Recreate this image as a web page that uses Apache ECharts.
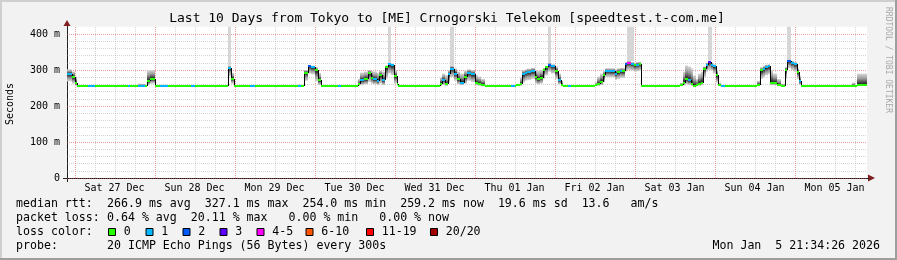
<!DOCTYPE html>
<html><head><meta charset="utf-8">
<script src="https://cdn.jsdelivr.net/npm/echarts@6/dist/echarts.min.js"></script>
<style>html,body{margin:0;padding:0;background:#f2f2f2}#c{width:897px;height:260px}</style>
</head><body><div id="c"></div>
<script>
// ---------------- data ----------------
const titleText = 'Last 10 Days from Tokyo to [ME] Crnogorski Telekom [speedtest.t-com.me]';
// x values are hours since Sat 27 Dec 00:00
const xMin = -2.25, xMax = 237.75;
const yMax = 420;
const dayLabels = ['Sat 27 Dec','Sun 28 Dec','Mon 29 Dec','Tue 30 Dec','Wed 31 Dec','Thu 01 Jan','Fri 02 Jan','Sat 03 Jan','Sun 04 Jan','Mon 05 Jan'];
const dayLabelHours = [12,36,60,84,108,132,156,180,204,228];
const gridHours = [0,6,12,18,24,30,36,42,48,54,60,66,72,78,84,90,96,102,108,114,120,126,132,138,144,150,156,162,168,174,180,186,192,198,204,210,216,222,228,234];
const yTickLabels = {0:'0',100:'100 m',200:'200 m',300:'300 m',400:'400 m'};

// median rtt steps (ms), loss count, smoke low / high (ms)
const segStart = [-2.25,-0.75,0.1,0.75,4.0,6.0,16.0,16.7,19.0,21.0,21.75,22.65,24.1,25.65,28.05,34.95,36.15,
  46.0,46.95,47.95,52.65,54.05,67.05,67.85,68.85,69.95,70.85,72.15,72.95,73.85,79.15,79.85,
  84.95,85.65,86.95,88.15,88.95,89.65,90.65,91.35,92.15,93.15,93.95,94.95,95.95,96.65,97.15,
  109.65,110.35,111.15,111.95,112.75,113.95,114.75,115.65,116.95,117.65,119.05,120.05,121.05,122.05,123.05,
  130.85,132.05,132.55,133.55,134.25,135.05,135.85,137.05,138.05,138.85,139.55,140.55,141.25,142.05,143.05,144.25,145.05,145.85,146.55,
  148.05,148.85,156.05,156.85,157.55,158.55,159.25,160.55,162.05,162.85,163.55,164.25,165.05,165.85,167.05,167.85,168.55,169.25,169.85,
  181.65,182.45,183.15,184.15,184.85,185.65,186.35,187.15,187.85,188.65,189.35,189.95,190.85,191.65,192.35,192.95,193.85,195.15,
  204.85,205.65,206.45,207.15,207.95,208.65,209.45,210.85,211.85,213.15,213.85,214.85,215.85,216.65,217.45,217.85,
  233.15,234.15,234.65];
const segMedian = [289,280,263,255,255,255,255,255,255,255,269,275,255,255,255,255,255,
  306,276,255,255,255,255,255,293,311,308,299,271,255,255,255,
  260,271,274,292,279,274,269,285,271,308,316,313,283,262,255,
  262,271,260,288,304,290,274,265,281,292,288,264,262,259,255,
  255,255,257,260,288,292,294,297,281,274,279,299,308,315,311,297,271,259,255,
  255,255,257,260,267,285,297,296,290,294,297,296,316,320,318,313,315,318,255,
  257,265,274,271,260,255,257,262,265,304,315,322,315,310,285,257,255,255,
  259,299,302,308,310,265,264,257,255,301,325,320,316,294,269,255,
  255,255,259];
const segLoss = [1,0,0,0,1,0,1,0,1,0,0,0,0,1,0,1,0,
  1,0,0,1,0,1,0,0,2,1,0,0,0,1,0,
  0,1,0,0,0,1,1,0,1,0,1,1,0,0,0,
  0,1,0,1,1,1,0,1,0,1,1,0,0,0,0,
  1,0,0,0,1,1,1,1,0,0,0,0,0,2,1,0,1,0,0,
  1,0,0,0,0,0,1,1,1,0,1,0,2,4,1,0,1,0,0,
  0,0,0,1,0,0,0,0,0,0,1,3,1,1,0,0,1,0,
  0,0,1,1,1,0,0,0,0,0,2,1,1,0,1,0,
  0,0,0];
const segLow = [268,262,256,255,255,255,255,255,255,255,258,262,255,255,255,255,255,
  282,262,255,255,255,255,255,270,290,288,268,258,255,255,255,
  256,258,260,266,262,260,258,262,258,276,290,286,262,256,255,
  256,258,256,265,280,270,260,258,262,270,266,258,256,255,255,
  255,255,255,256,265,270,272,275,262,260,262,275,285,295,290,275,260,255,255,
  255,255,255,256,258,265,280,280,272,275,278,278,295,300,298,295,296,298,255,
  255,257,260,258,256,254,255,256,258,280,295,300,298,290,265,255,255,255,
  256,275,280,285,288,258,258,255,254,275,305,300,295,275,258,255,
  255,255,256];
const segHigh = [302,296,282,255,258,255,255,255,262,255,300,300,255,259,255,255,255,
  312,292,258,255,255,260,255,300,314,312,308,292,258,255,255,
  276,293,296,300,298,296,292,298,296,313,320,318,300,278,255,
  280,290,286,300,312,305,296,290,298,302,300,286,282,275,255,
  255,255,262,280,300,302,304,306,300,298,300,306,312,320,316,310,290,270,255,
  255,255,266,282,290,298,305,305,302,305,306,306,322,325,322,320,322,322,255,
  265,295,313,310,305,285,275,290,295,310,320,326,320,316,300,265,255,255,
  270,308,312,315,316,300,290,275,262,308,330,325,322,305,285,255,
  265,255,290];
// outlier pings above the visible range
const spikeStart = [46.0,93.95,112.75,142.05,165.85,189.95,213.85];
const spikeEnd   = [46.95,94.95,113.95,143.05,167.75,191.15,214.85];
const spikeBase  = [312,320,312,320,325,326,330];

const lossLabels = ['0','1','2','3','4-5','6-10','11-19','20/20'];
const lossColors = ['#26ff00','#00b8ff','#0059ff','#5e00ff','#ff00ff','#ff5500','#ff0000','#a00000'];

const statRows = [
  ['median rtt:', '266.9 ms avg  327.1 ms max  254.0 ms min  259.2 ms now  19.6 ms sd  13.6   am/s'],
  ['packet loss:', '0.64 % avg  20.11 % max   0.00 % min   0.00 % now'],
  ['loss color:', ''],
  ['probe:', '20 ICMP Echo Pings (56 Bytes) every 300s']
];
const stampText = 'Mon Jan  5 21:34:26 2026';
const yAxisName = 'Seconds';
const sideText = 'RRDTOOL / TOBI OETIKER';

// ---------------- chart ----------------
const MONO = '"DejaVu Sans Mono", monospace';
const GRID_MINOR = 'rgba(143,143,143,0.38)';
const GRID_MAJOR = 'rgba(222,79,79,0.55)';
const segEnd = segStart.map((s, i) => i + 1 < segStart.length ? segStart[i + 1] : xMax);

const smokeData = [], medianData = [];
segStart.forEach((s, i) => {
  if (segHigh[i] > segLow[i]) smokeData.push([s, segEnd[i], segLow[i], segHigh[i], segMedian[i]]);
  medianData.push([s, segEnd[i], segMedian[i], segLoss[i], i > 0 ? segMedian[i - 1] : -1]);
});
const spikeData = spikeStart.map((s, i) => [s, spikeEnd[i], spikeBase[i]]);

const chart = echarts.init(document.getElementById('c'), null, {renderer: 'canvas'});

function renderGridX(params, api) {
  const h = api.value(0);
  const p1 = api.coord([h, 0]), p2 = api.coord([h, yMax]);
  const x = Math.round(p1[0]) + 0.5;
  return {type: 'line', shape: {x1: x, y1: p1[1], x2: x, y2: p2[1]},
    style: {stroke: (h % 24 === 0) ? GRID_MAJOR : GRID_MINOR, lineWidth: 1, lineDash: [1, 1]}};
}
function renderDayLabel(params, api) {
  const p = api.coord([api.value(0), 0]);
  return {type: 'text', x: p[0], y: p[1] + 10,
    style: {text: dayLabels[params.dataIndex], font: '10px ' + MONO, fill: '#000', align: 'center', verticalAlign: 'middle'}};
}
function renderSpike(params, api) {
  const p1 = api.coord([api.value(0), yMax]), p2 = api.coord([api.value(1), api.value(2)]);
  const x1 = Math.round(p1[0]), x2 = Math.round(p2[0]);
  return {type: 'rect', shape: {x: x1, y: p1[1], width: x2 - x1, height: p2[1] - p1[1]}, style: {fill: '#d6d6d6'}};
}
function renderSmoke(params, api) {
  const s = api.value(0), e = api.value(1), lo = api.value(2), hi = api.value(3), med = api.value(4);
  const pT = api.coord([s, hi]), pB = api.coord([e, lo]);
  const x = Math.round(pT[0]), w = Math.round(pB[0]) - x;
  const y = pT[1], h = pB[1] - pT[1];
  if (w <= 0 || h <= 0) return null;
  let m = (hi - med) / (hi - lo); m = Math.min(0.97, Math.max(0.03, m));
  return {type: 'rect', shape: {x, y, width: w, height: h},
    style: {fill: new echarts.graphic.LinearGradient(0, 0, 0, 1, [
      {offset: 0, color: '#d8d8d8'}, {offset: m * 0.45, color: '#9a9a9a'},
      {offset: m * 0.8, color: '#444444'}, {offset: m, color: '#1e1e1e'},
      {offset: m + (1 - m) * 0.2, color: '#444444'},
      {offset: m + (1 - m) * 0.55, color: '#9a9a9a'}, {offset: 1, color: '#d8d8d8'}])}};
}
function renderMedian(params, api) {
  const s = api.value(0), e = api.value(1), med = api.value(2), loss = api.value(3), prev = api.value(4);
  const p1 = api.coord([s, med]), p2 = api.coord([e, med]);
  const y = Math.round(p1[1]);
  const children = [];
  if (prev > 0 && prev !== med) {
    const pp = api.coord([s, prev]);
    const x = Math.round(p1[0]) + 0.5;
    children.push({type: 'line', shape: {x1: x, y1: Math.round(pp[1]), x2: x, y2: y}, style: {stroke: '#000', lineWidth: 1}});
  }
  children.push({type: 'line', shape: {x1: Math.round(p1[0]), y1: y, x2: Math.round(p2[0]), y2: y},
    style: {stroke: lossColors[loss], lineWidth: 2}});
  return {type: 'group', children};
}

// legend / text graphics
const graphics = [
  {type: 'rect', shape: {x: 0, y: 0, width: 897, height: 2}, style: {fill: '#cfcfcf'}, silent: true},
  {type: 'rect', shape: {x: 0, y: 0, width: 2, height: 260}, style: {fill: '#cfcfcf'}, silent: true},
  {type: 'rect', shape: {x: 0, y: 258, width: 897, height: 2}, style: {fill: '#9e9e9e'}, silent: true},
  {type: 'rect', shape: {x: 895, y: 0, width: 2, height: 260}, style: {fill: '#9e9e9e'}, silent: true},
  {type: 'text', x: 447, y: 19, style: {text: titleText, font: '13px ' + MONO, fill: '#000', align: 'center', verticalAlign: 'middle', textAlign: 'center', textVerticalAlign: 'middle'}},
  {type: 'text', x: 10, y: 104, rotation: Math.PI / 2, style: {text: yAxisName, font: '10px ' + MONO, fill: '#000', align: 'center', verticalAlign: 'middle', textAlign: 'center', textVerticalAlign: 'middle'}},
  {type: 'text', x: 888, y: 60, rotation: -Math.PI / 2, style: {text: sideText, font: '8px ' + MONO, fill: '#a8a8a8', align: 'center', verticalAlign: 'middle', textAlign: 'center', textVerticalAlign: 'middle'}},
  // arrows
  {type: 'polygon', shape: {points: [[63.5, 26], [70.5, 26], [67, 20]]}, style: {fill: '#801f1f'}},
  {type: 'polygon', shape: {points: [[868, 174.5], [868, 181.5], [875, 178]]}, style: {fill: '#801f1f'}},
  {type: 'line', shape: {x1: 67.5, y1: 26, x2: 67.5, y2: 182}, style: {stroke: '#1f1f1f', lineWidth: 1}},
  {type: 'line', shape: {x1: 63, y1: 178.5, x2: 869, y2: 178.5}, style: {stroke: '#1f1f1f', lineWidth: 1}},
  {type: 'text', x: 880, y: 246, style: {text: stampText, font: '11.6px ' + MONO, fill: '#000', align: 'right', verticalAlign: 'middle', textAlign: 'right', textVerticalAlign: 'middle'}}
];
const rowY = [204, 218, 232, 246];
statRows.forEach((r, i) => {
  graphics.push({type: 'text', x: 16, y: rowY[i], style: {text: r[0], font: '11.6px ' + MONO, fill: '#000', verticalAlign: 'middle', textVerticalAlign: 'middle'}});
  if (r[1]) graphics.push({type: 'text', x: 107, y: rowY[i], style: {text: r[1], font: '11.6px ' + MONO, fill: '#000', verticalAlign: 'middle', textVerticalAlign: 'middle'}});
});
const boxX = [108, 145.5, 182.5, 219.5, 256.5, 305.5, 366, 430];
lossLabels.forEach((l, i) => {
  graphics.push({type: 'rect', shape: {x: boxX[i] + 0.5, y: 228.5, width: 7, height: 7}, style: {fill: lossColors[i], stroke: '#000', lineWidth: 1}});
  graphics.push({type: 'text', x: boxX[i] + 15.7, y: 232, style: {text: l, font: '11.6px ' + MONO, fill: '#000', verticalAlign: 'middle', textVerticalAlign: 'middle'}});
});

chart.setOption({
  animation: false,
  backgroundColor: '#f2f2f2',
  grid: {left: 67, top: 26.8, width: 800, height: 151.2, show: true, backgroundColor: '#ffffff', borderWidth: 0},
  xAxis: {type: 'value', min: xMin, max: xMax, axisLine: {show: false}, axisTick: {show: false}, axisLabel: {show: false}, splitLine: {show: false}},
  yAxis: {type: 'value', min: 0, max: yMax, interval: 20,
    axisLine: {show: false}, axisTick: {show: false},
    axisLabel: {margin: 7, fontFamily: MONO, fontSize: 10, color: '#000', formatter: v => (yTickLabels[v] !== undefined ? yTickLabels[v] : '')},
    splitLine: {show: true, showMaxLine: false, lineStyle: {type: [1, 1], width: 1, color: [GRID_MAJOR, GRID_MINOR, GRID_MINOR, GRID_MINOR, GRID_MINOR]}}},
  graphic: graphics,
  series: [
    {type: 'custom', name: 'xgrid', renderItem: renderGridX, data: gridHours.map(h => [h]), z: 1, silent: true, clip: false},
    {type: 'custom', name: 'outliers', renderItem: renderSpike, data: spikeData, z: 2, silent: true},
    {type: 'custom', name: 'smoke', renderItem: renderSmoke, data: smokeData, z: 3, silent: true},
    {type: 'custom', name: 'median', renderItem: renderMedian, data: medianData, z: 4, silent: true},
    {type: 'custom', name: 'days', renderItem: renderDayLabel, data: dayLabelHours.map(h => [h]), z: 5, silent: true, clip: false}
  ]
});
</script></body></html>
